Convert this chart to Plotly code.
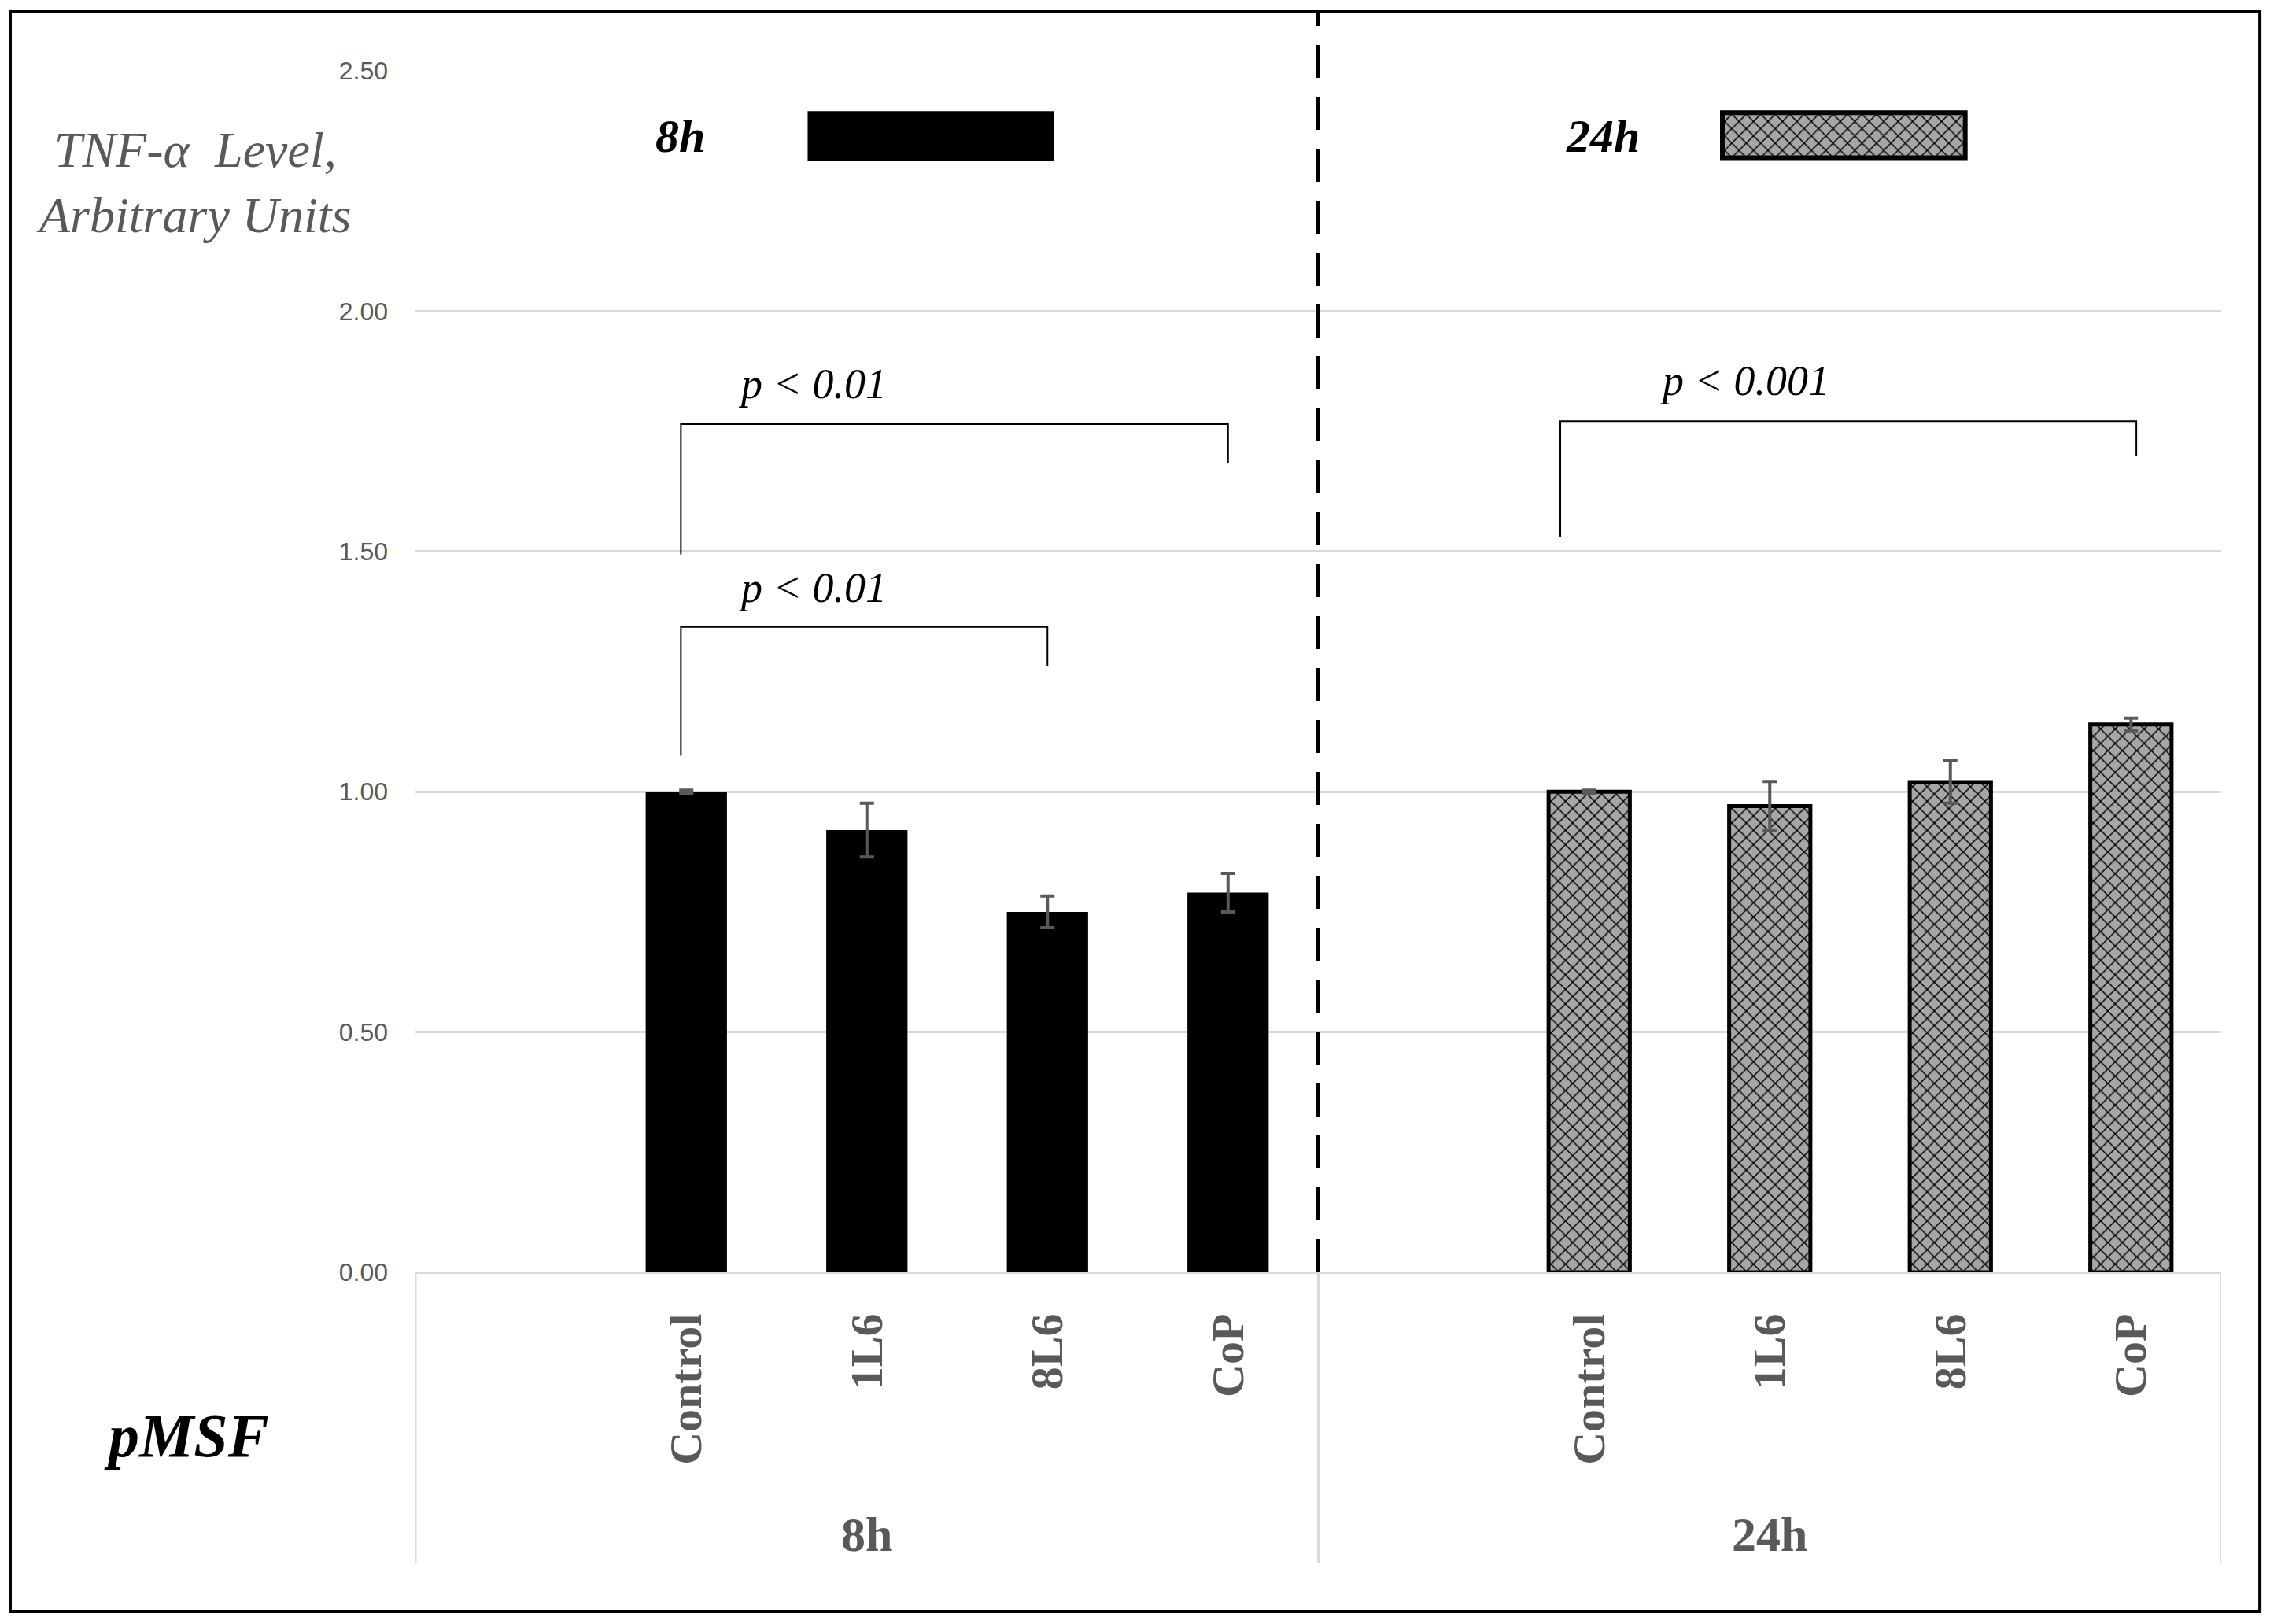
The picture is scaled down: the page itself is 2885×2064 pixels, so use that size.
import plotly.graph_objects as go

# ---------------- data ----------------
groups = ["8h", "24h"]
categories = ["", "Control", "1L6", "8L6", "CoP"]
values_8h = [None, 1.00, 0.92, 0.75, 0.79]
errors_8h = [None, 0.003, 0.056, 0.033, 0.040]
values_24h = [None, 1.00, 0.97, 1.02, 1.14]
errors_24h = [None, 0.003, 0.051, 0.044, 0.013]
y_ticks = [0.0, 0.5, 1.0, 1.5, 2.0, 2.5]

# significance brackets: (x_left, x_right, y_left_end, y_top, y_right_end, label)
bracket_left = [0.97, 0.97, 5.84]
bracket_right = [4.0, 3.0, 9.03]
bracket_left_end = [1.494, 1.075, 1.530]
bracket_top = [1.765, 1.343, 1.771]
bracket_right_end = [1.684, 1.262, 1.699]
bracket_labels = ["p &lt; 0.01", "p &lt; 0.01", "p &lt; 0.001"]
bracket_label_x = [1.70, 1.70, 6.86]
bracket_label_y = [1.849, 1.425, 1.855]

n_cat = len(categories)
GRAY_TXT = "#595959"
GRID = "#d9d9d9"
HATCH_BG = "#a6a6a6"
HATCH = dict(shape="x", fillmode="replace", bgcolor=HATCH_BG, fgcolor="#000000",
             size=13, solidity=0.22)

fig = go.Figure()

series = [(values_8h, errors_8h), (values_24h, errors_24h)]
for g, (vals, errs) in enumerate(series):
    xs, ys, es = [], [], []
    for i, (v, e) in enumerate(zip(vals, errs)):
        if v is None:
            continue
        xs.append(g * n_cat + i)
        ys.append(v)
        es.append(e)
    if g == 0:
        marker = dict(color="#000000", line=dict(width=0))
    else:
        marker = dict(color=HATCH_BG, line=dict(color="#000000", width=5), pattern=HATCH)
    fig.add_trace(go.Bar(
        x=xs, y=ys, width=0.45, marker=marker, showlegend=False,
        error_y=dict(type="data", array=es, visible=True, color=GRAY_TXT,
                     thickness=4, width=9),
    ))

# legend swatches (drawn as bars on the same axes)
legend_x = [2.354, 7.41]
legend_w = [1.364, 1.345]
legend_base = [2.313, 2.319]
legend_h = [0.103, 0.094]
fig.add_trace(go.Bar(x=[legend_x[0]], y=[legend_h[0]], base=[legend_base[0]],
                     width=[legend_w[0]], marker=dict(color="#000000", line=dict(width=0)),
                     showlegend=False, hoverinfo="skip"))
fig.add_trace(go.Bar(x=[legend_x[1]], y=[legend_h[1]], base=[legend_base[1]],
                     width=[legend_w[1]],
                     marker=dict(color=HATCH_BG, line=dict(color="#000000", width=6),
                                 pattern=HATCH),
                     showlegend=False, hoverinfo="skip"))

tickvals, ticktext = [], []
for g in range(len(groups)):
    for i, c in enumerate(categories):
        if c:
            tickvals.append(g * n_cat + i)
            ticktext.append(c)

annotations = []
shapes = []

# brackets
for xl, xr, yl, yt, yr, lab, lx, ly in zip(bracket_left, bracket_right, bracket_left_end,
                                           bracket_top, bracket_right_end, bracket_labels,
                                           bracket_label_x, bracket_label_y):
    shapes.append(dict(type="path", xref="x", yref="y",
                       path=f"M {xl},{yl} L {xl},{yt} L {xr},{yt} L {xr},{yr}",
                       line=dict(color="#000000", width=2)))
    annotations.append(dict(x=lx, y=ly, xref="x", yref="y", text=lab, showarrow=False,
                            xanchor="center", yanchor="middle",
                            font=dict(family="Liberation Serif", size=54, color="#000000",
                                      style="italic")))

# group divider (dashed, through the plot) and gray category dividers below axis
shapes.append(dict(type="line", xref="x", yref="paper", x0=n_cat - 0.5, x1=n_cat - 0.5,
                   y0=0, y1=1.049, line=dict(color="#000000", width=5, dash="42px,24px")))
for xv in [-0.5, n_cat - 0.5, 2 * n_cat - 0.5]:
    shapes.append(dict(type="line", xref="x", yref="paper", x0=xv, x1=xv, y0=0, y1=-0.2423,
                       line=dict(color=GRID, width=3)))

# outer border
shapes.append(dict(type="rect", xref="paper", yref="paper", x0=-0.2244, x1=1.0214,
                   y0=-0.2823, y1=1.0491, line=dict(color="#000000", width=4)))

# group labels under axis
for g, name in enumerate(groups):
    annotations.append(dict(x=g * n_cat + (n_cat - 1) / 2, y=-0.218, xref="x", yref="paper",
                            text=name, showarrow=False, xanchor="center", yanchor="middle",
                            font=dict(family="Liberation Serif", size=62, color=GRAY_TXT,
                                      weight="bold")))

# legend texts
annotations.append(dict(x=0.967, y=2.364, xref="x", yref="y", text="8h", showarrow=False,
                        xanchor="center", yanchor="middle",
                        font=dict(family="Liberation Serif", size=60, color="#000000",
                                  style="italic", weight="bold")))
annotations.append(dict(x=6.076, y=2.364, xref="x", yref="y", text="24h", showarrow=False,
                        xanchor="center", yanchor="middle",
                        font=dict(family="Liberation Serif", size=60, color="#000000",
                                  style="italic", weight="bold")))

# y-axis title
annotations.append(dict(x=-0.123, y=0.907, xref="paper", yref="paper",
                        text="TNF-α\u00a0 Level,<br>Arbitrary Units", showarrow=False,
                        align="center", xanchor="center", yanchor="middle",
                        font=dict(family="Liberation Serif", size=64, color=GRAY_TXT,
                                  style="italic")))
# pMSF
annotations.append(dict(x=-0.127, y=-0.1356, xref="paper", yref="paper", text="pMSF",
                        showarrow=False, xanchor="center", yanchor="middle",
                        font=dict(family="Liberation Serif", size=78, color="#000000",
                                  style="italic", weight="bold")))

# page body has an 8px margin: shrink the figure so the plot lands where the reference has it
fig.update_layout(
    width=2869, height=2048,
    margin=dict(l=520, r=54, t=82, b=439),
    paper_bgcolor="white", plot_bgcolor="white",
    barmode="overlay",
    shapes=shapes, annotations=annotations,
    xaxis=dict(range=[-0.5, 2 * n_cat - 0.5], tickmode="array", tickvals=tickvals,
               ticktext=ticktext, tickangle=-90, ticks="", showgrid=False,
               showline=False, zeroline=False, ticklabelstandoff=40,
               tickfont=dict(family="Liberation Serif", size=58, color=GRAY_TXT,
                             weight="bold")),
    yaxis=dict(range=[0, 2.5], tickmode="array", tickvals=y_ticks,
               ticktext=[f"{v:.2f}" for v in y_ticks], showgrid=True, gridcolor=GRID,
               gridwidth=3, zeroline=True, zerolinecolor=GRID, zerolinewidth=3,
               showline=False, ticks="", ticklabelstandoff=34,
               tickfont=dict(family="Liberation Sans", size=32, color=GRAY_TXT)),
)

fig.write_html("out.html")
